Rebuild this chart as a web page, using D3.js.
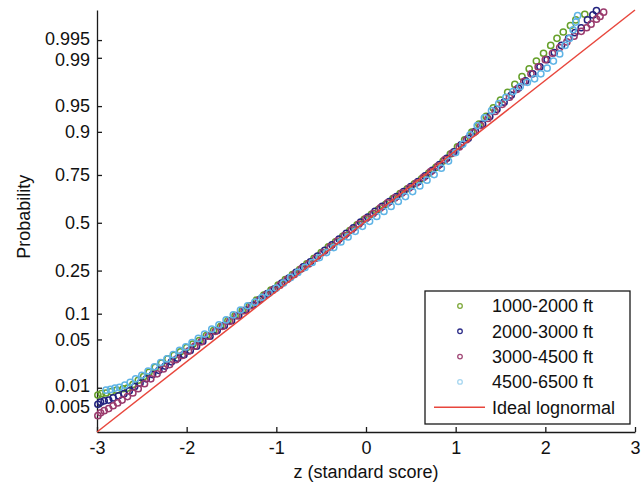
<!DOCTYPE html>
<html lang="en">
<head>
<meta charset="UTF-8">
<title>Normal probability plot</title>
<script src="https://cdn.jsdelivr.net/npm/d3@7"></script>
<style>
  body { margin: 0; background: #fff; }
  svg text { font-family: "Liberation Sans", Arial, Helvetica, sans-serif; fill: #111; }
</style>
</head>
<body>
<svg id="chart" width="644" height="487"></svg>
<script>
// y ticks: probability labels and their normal quantiles
const yTickLabels = ["0.005", "0.01", "0.05", "0.1", "0.25", "0.5", "0.75", "0.9", "0.95", "0.99", "0.995"];
const yTickQuantiles = [-2.576, -2.326, -1.645, -1.282, -0.674, 0, 0.674, 1.282, 1.645, 2.326, 2.576];
const xTicks = [-3, -2, -1, 0, 1, 2, 3];

const seriesNames = ["1000-2000 ft", "2000-3000 ft", "3000-4500 ft", "4500-6500 ft"];
const seriesColors = ["#66a02a", "#22227e", "#9a3a6c", "#5fb4e6"];
const legendColors = ["#7ea83a", "#30308a", "#a24a78", "#a6d6f0"];

// [z, quantile]
const alt1000 = [[-2.99,-2.43],[-2.95,-2.41],[-2.9,-2.40],[-2.84,-2.38],[-2.78,-2.36],[-2.71,-2.34],[-2.66,-2.33],[-2.6,-2.28],
  [-2.54,-2.22],[-2.48,-2.17],[-2.42,-2.11],[-2.35,-2.04],[-2.28,-1.98],[-2.21,-1.92],[-2.14,-1.87],[-2.07,-1.82],[-2.0,-1.76],
  [-1.93,-1.71],[-1.86,-1.66],[-1.78,-1.59],[-1.7,-1.52],[-1.62,-1.46],[-1.54,-1.38],[-1.46,-1.31],[-1.38,-1.24],[-1.3,-1.17],
  [-1.22,-1.09],[-1.14,-1.02],[-1.06,-0.95],[-0.98,-0.88],[-0.9,-0.8],[-0.82,-0.73],[-0.74,-0.66],[-0.66,-0.58],[-0.58,-0.5],
  [-0.5,-0.42],[-0.42,-0.34],[-0.34,-0.27],[-0.26,-0.19],[-0.18,-0.11],[-0.1,-0.03],[-0.02,0.05],[0.06,0.12],[0.14,0.19],
  [0.22,0.26],[0.3,0.34],[0.38,0.41],[0.46,0.48],[0.54,0.55],[0.62,0.62],[0.7,0.7],[0.78,0.78],[0.86,0.87],[0.94,0.97],
  [1.02,1.07],[1.1,1.17],[1.18,1.28],[1.26,1.39],[1.34,1.5],[1.42,1.62],[1.5,1.73],[1.58,1.84],[1.66,1.95],[1.74,2.06],
  [1.82,2.17],[1.9,2.28],[1.98,2.39],[2.06,2.5],[2.13,2.6],[2.2,2.69],[2.28,2.78],[2.34,2.86],[2.44,2.94]];

const alt2000 = [[-2.99,-2.56],[-2.96,-2.53],[-2.92,-2.51],[-2.87,-2.5],[-2.82,-2.47],[-2.76,-2.44],[-2.7,-2.41],[-2.64,-2.37],
  [-2.58,-2.31],[-2.52,-2.26],[-2.45,-2.2],[-2.38,-2.14],[-2.31,-2.08],[-2.24,-2.02],[-2.17,-1.96],[-2.1,-1.91],[-2.03,-1.86],
  [-1.96,-1.8],[-1.89,-1.74],[-1.82,-1.67],[-1.74,-1.6],[-1.66,-1.52],[-1.58,-1.45],[-1.5,-1.38],[-1.42,-1.31],[-1.34,-1.23],
  [-1.26,-1.16],[-1.18,-1.08],[-1.1,-1.0],[-1.02,-0.93],[-0.94,-0.85],[-0.86,-0.78],[-0.78,-0.7],[-0.7,-0.62],[-0.62,-0.55],
  [-0.54,-0.47],[-0.46,-0.39],[-0.38,-0.31],[-0.3,-0.23],[-0.22,-0.15],[-0.14,-0.07],[-0.06,0.01],[0.02,0.08],[0.1,0.16],
  [0.18,0.23],[0.26,0.3],[0.34,0.37],[0.42,0.44],[0.5,0.51],[0.58,0.58],[0.66,0.66],[0.74,0.74],[0.82,0.82],[0.9,0.91],
  [0.98,1.0],[1.06,1.1],[1.14,1.19],[1.22,1.29],[1.3,1.39],[1.38,1.5],[1.46,1.6],[1.54,1.7],[1.62,1.8],[1.7,1.9],[1.78,2.0],
  [1.86,2.1],[1.94,2.2],[2.02,2.3],[2.1,2.4],[2.18,2.5],[2.26,2.6],[2.33,2.68],[2.4,2.75],[2.47,2.86],[2.53,2.93],[2.57,2.99]];

const alt3000 = [[-2.99,-2.72],[-2.96,-2.68],[-2.92,-2.65],[-2.87,-2.62],[-2.82,-2.58],[-2.77,-2.54],[-2.72,-2.5],[-2.66,-2.45],
  [-2.6,-2.4],[-2.54,-2.34],[-2.47,-2.27],[-2.4,-2.2],[-2.33,-2.13],[-2.26,-2.06],[-2.19,-2.0],[-2.12,-1.93],[-2.05,-1.87],
  [-1.98,-1.81],[-1.91,-1.74],[-1.84,-1.68],[-1.76,-1.6],[-1.68,-1.53],[-1.6,-1.46],[-1.52,-1.39],[-1.44,-1.31],[-1.36,-1.24],
  [-1.28,-1.17],[-1.2,-1.1],[-1.12,-1.02],[-1.04,-0.95],[-0.96,-0.88],[-0.88,-0.8],[-0.8,-0.73],[-0.72,-0.65],[-0.64,-0.58],
  [-0.56,-0.5],[-0.48,-0.42],[-0.4,-0.34],[-0.32,-0.26],[-0.24,-0.18],[-0.16,-0.1],[-0.08,-0.02],[0.0,0.06],[0.08,0.13],
  [0.16,0.21],[0.24,0.28],[0.32,0.35],[0.4,0.42],[0.48,0.49],[0.56,0.56],[0.64,0.64],[0.72,0.72],[0.8,0.8],[0.88,0.89],
  [0.96,0.98],[1.04,1.07],[1.12,1.17],[1.2,1.27],[1.28,1.37],[1.36,1.47],[1.44,1.57],[1.52,1.67],[1.6,1.77],[1.68,1.88],
  [1.76,1.99],[1.84,2.1],[1.92,2.2],[2.0,2.3],[2.08,2.39],[2.16,2.47],[2.24,2.55],[2.32,2.63],[2.4,2.7],[2.46,2.75],
  [2.51,2.8],[2.57,2.87],[2.61,2.91],[2.65,2.97]];

const alt4500 = [[-2.9,-2.36],[-2.85,-2.35],[-2.8,-2.33],[-2.75,-2.32],[-2.69,-2.29],[-2.63,-2.25],[-2.57,-2.2],[-2.5,-2.15],
  [-2.43,-2.09],[-2.36,-2.03],[-2.29,-1.97],[-2.22,-1.92],[-2.15,-1.86],[-2.08,-1.8],[-2.01,-1.75],[-1.94,-1.69],[-1.87,-1.63],
  [-1.8,-1.57],[-1.72,-1.5],[-1.64,-1.44],[-1.56,-1.37],[-1.48,-1.3],[-1.4,-1.23],[-1.32,-1.17],[-1.24,-1.12],[-1.16,-1.05],
  [-1.08,-0.99],[-1.0,-0.92],[-0.92,-0.85],[-0.84,-0.77],[-0.76,-0.7],[-0.68,-0.63],[-0.6,-0.56],[-0.52,-0.49],[-0.44,-0.42],
  [-0.36,-0.35],[-0.28,-0.27],[-0.2,-0.2],[-0.12,-0.12],[-0.04,-0.05],[0.04,0.02],[0.12,0.09],[0.2,0.16],[0.28,0.23],
  [0.36,0.3],[0.44,0.37],[0.52,0.44],[0.6,0.52],[0.68,0.6],[0.76,0.68],[0.84,0.77],[0.92,0.87],[1.0,0.99],[1.08,1.11],
  [1.16,1.24],[1.24,1.37],[1.32,1.48],[1.4,1.58],[1.48,1.68],[1.56,1.77],[1.64,1.85],[1.72,1.92],[1.8,1.98],[1.88,2.03],
  [1.95,2.1],[2.02,2.18],[2.09,2.28],[2.16,2.38],[2.22,2.5],[2.27,2.6],[2.31,2.72],[2.34,2.83],[2.36,2.92]];

const seriesData = [alt1000, alt2000, alt3000, alt4500];

// ideal lognormal reference line, corner to corner
const idealZ = [-3, 3];
const idealQ = [-2.95, 3.0];

const svg = d3.select("#chart");
const margin = { left: 97, right: 9, top: 10, bottom: 55 };
const width = 644, height = 487;
const fontSize = 18;

const x = d3.scaleLinear().domain([-3, 3]).range([margin.left, width - margin.right]);
const y = d3.scaleLinear().domain([-2.95, 3.0]).range([height - margin.bottom, margin.top]);

// axes (ticks point inward, no box)
const xAxis = d3.axisBottom(x).tickValues(xTicks)
  .tickFormat(d => d < 0 ? "-" + Math.abs(d) : String(d))
  .tickSizeInner(-5).tickSizeOuter(0).tickPadding(9);
const yAxis = d3.axisLeft(y).tickValues(yTickQuantiles)
  .tickFormat((d, i) => yTickLabels[i])
  .tickSizeInner(-5).tickSizeOuter(0).tickPadding(7);

const gx = svg.append("g").attr("transform", `translate(0,${height - margin.bottom})`).call(xAxis);
const gy = svg.append("g").attr("transform", `translate(${margin.left},0)`).call(yAxis);

[gx, gy].forEach(g => {
  g.selectAll("path, line").attr("stroke", "#1a1a1a").attr("stroke-width", 1.3);
  g.selectAll("text").attr("font-size", fontSize).attr("fill", "#111")
    .attr("font-family", '"Liberation Sans", Arial, Helvetica, sans-serif');
});

// the two tight pairs of labels nearly touch; spread them a hair
const labelNudge = { "0.995": -1.6, "0.99": 1.6, "0.01": -1.6, "0.005": 1.6 };
gy.selectAll(".tick text")
  .attr("transform", function () { return `translate(0,${labelNudge[this.textContent] || 0})`; });

// data points
seriesData.forEach((data, i) => {
  svg.append("g")
    .selectAll("circle")
    .data(data)
    .enter().append("circle")
    .attr("cx", d => x(d[0]))
    .attr("cy", d => y(d[1]))
    .attr("r", 3.1)
    .attr("fill", "none")
    .attr("stroke", seriesColors[i])
    .attr("stroke-width", 1.5);
});

svg.append("line")
  .attr("x1", x(idealZ[0])).attr("y1", y(idealQ[0]))
  .attr("x2", x(idealZ[1])).attr("y2", y(idealQ[1]))
  .attr("stroke", "#e8463c").attr("stroke-width", 1.5);

// axis titles
svg.append("text")
  .attr("x", (x(-3) + x(3)) / 2).attr("y", 478)
  .attr("text-anchor", "middle").attr("font-size", fontSize)
  .text("z (standard score)");

svg.append("text")
  .attr("transform", `translate(30,${y(0) - 6}) rotate(-90)`)
  .attr("text-anchor", "middle").attr("font-size", fontSize)
  .text("Probability");

// legend
const legend = svg.append("g");
legend.append("rect")
  .attr("x", 425).attr("y", 291).attr("width", 205).attr("height", 133)
  .attr("fill", "#fff").attr("stroke", "#1a1a1a").attr("stroke-width", 1.3);

const rowY = i => 306 + i * 25.3;
seriesNames.forEach((name, i) => {
  legend.append("circle")
    .attr("cx", 460).attr("cy", rowY(i)).attr("r", 2.3)
    .attr("fill", "none").attr("stroke", legendColors[i]).attr("stroke-width", 1.3);
  legend.append("text")
    .attr("x", 492).attr("y", rowY(i)).attr("dy", "0.35em")
    .attr("font-size", fontSize).text(name);
});
legend.append("line")
  .attr("x1", 434).attr("x2", 485).attr("y1", rowY(4)).attr("y2", rowY(4))
  .attr("stroke", "#e8463c").attr("stroke-width", 1.5);
legend.append("text")
  .attr("x", 492).attr("y", rowY(4)).attr("dy", "0.35em")
  .attr("font-size", fontSize).text("Ideal lognormal");
</script>
</body>
</html>
